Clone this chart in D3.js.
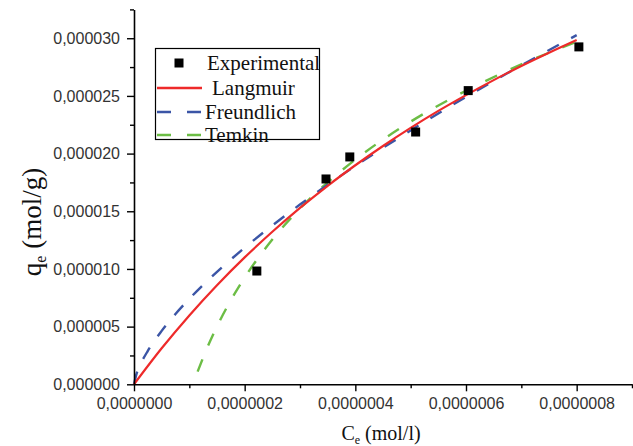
<!DOCTYPE html>
<html><head><meta charset="utf-8">
<script src="https://cdn.jsdelivr.net/npm/d3@7"></script>
<style>body{margin:0;background:#fff;} svg{display:block;}</style>
</head><body>
<svg id="chart" width="633" height="446"></svg>
<script>
// ---- Data ----
const expC = [0.222e-6, 0.347e-6, 0.390e-6, 0.509e-6, 0.604e-6, 0.804e-6];
const expQ = [9.82e-6, 17.80e-6, 19.71e-6, 21.87e-6, 25.46e-6, 29.25e-6];

const langC = [0, 0.05e-6, 0.1e-6, 0.15e-6, 0.2e-6, 0.25e-6, 0.3e-6, 0.35e-6, 0.4e-6, 0.45e-6, 0.5e-6, 0.55e-6, 0.6e-6, 0.65e-6, 0.7e-6, 0.75e-6, 0.8e-6];
const langQ = [0, 3.12e-6, 5.97e-6, 8.59e-6, 11.00e-6, 13.22e-6, 15.29e-6, 17.21e-6, 18.99e-6, 20.66e-6, 22.23e-6, 23.70e-6, 25.07e-6, 26.37e-6, 27.60e-6, 28.75e-6, 29.85e-6];

const freuC = [0, 0.005e-6, 0.01e-6, 0.025e-6, 0.05e-6, 0.075e-6, 0.1e-6, 0.15e-6, 0.2e-6, 0.25e-6, 0.3e-6, 0.4e-6, 0.5e-6, 0.6e-6, 0.7e-6, 0.8e-6];
const freuQ = [0, 0.97e-6, 1.56e-6, 2.90e-6, 4.63e-6, 6.10e-6, 7.41e-6, 9.75e-6, 11.84e-6, 13.77e-6, 15.58e-6, 18.93e-6, 22.01e-6, 24.91e-6, 27.65e-6, 30.27e-6];

const temkC = [0.115e-6, 0.13e-6, 0.15e-6, 0.175e-6, 0.2e-6, 0.25e-6, 0.3e-6, 0.35e-6, 0.4e-6, 0.5e-6, 0.6e-6, 0.7e-6, 0.8e-6];
const temkQ = [1.10e-6, 2.91e-6, 5.02e-6, 7.29e-6, 9.26e-6, 12.55e-6, 15.24e-6, 17.51e-6, 19.48e-6, 22.77e-6, 25.45e-6, 27.73e-6, 29.70e-6];

const xTickValues = [0, 0.2e-6, 0.4e-6, 0.6e-6, 0.8e-6];
const xTickLabels = ["0,0000000", "0,0000002", "0,0000004", "0,0000006", "0,0000008"];
const yTickValues = [0, 5e-6, 10e-6, 15e-6, 20e-6, 25e-6, 30e-6];
const yTickLabels = ["0,000000", "0,000005", "0,000010", "0,000015", "0,000020", "0,000025", "0,000030"];

const seriesNames = ["Experimental", "Langmuir", "Freundlich", "Temkin"];
const colors = {Langmuir: "#ee2a2a", Freundlich: "#3b55a6", Temkin: "#6cbd45"};

// ---- Drawing ----
const svg = d3.select("#chart");
const x = d3.scaleLinear().domain([0, 0.9e-6]).range([134, 632]);
const y = d3.scaleLinear().domain([0, 3.25e-5]).range([384.3, 9.4]);

const line = d3.line().x(d => x(d[0])).y(d => y(d[1])).curve(d3.curveMonotoneX);
function pairs(a, b) { return a.map((v, i) => [v, b[i]]); }

svg.append("path").datum(pairs(temkC, temkQ)).attr("d", line)
  .attr("fill", "none").attr("stroke", colors.Temkin).attr("stroke-width", 2.4).attr("stroke-dasharray", "13,15");
svg.append("path").datum(pairs(freuC, freuQ)).attr("d", line)
  .attr("fill", "none").attr("stroke", colors.Freundlich).attr("stroke-width", 2.4).attr("stroke-dasharray", "13,14");
svg.append("path").datum(pairs(langC, langQ)).attr("d", line)
  .attr("fill", "none").attr("stroke", colors.Langmuir).attr("stroke-width", 2.2);

const sq = 9;
svg.selectAll("rect.exp").data(pairs(expC, expQ)).enter().append("rect")
  .attr("class", "exp")
  .attr("x", d => x(d[0]) - sq / 2).attr("y", d => y(d[1]) - sq / 2)
  .attr("width", sq).attr("height", sq).attr("fill", "#000");

const fontSans = "'Liberation Sans', Arial, sans-serif";
const fontSerif = "'Liberation Serif', 'Times New Roman', serif";

const xAxis = d3.axisBottom(x).tickValues(xTickValues)
  .tickFormat((d, i) => xTickLabels[i]).tickSizeInner(7).tickSizeOuter(0).tickPadding(6);
const gx = svg.append("g").attr("transform", `translate(0,${y(0)})`).call(xAxis);
const xMinor = d3.axisBottom(x).tickValues([0.1e-6, 0.3e-6, 0.5e-6, 0.7e-6, 0.9e-6])
  .tickFormat("").tickSizeInner(4).tickSizeOuter(0);
const gxm = svg.append("g").attr("transform", `translate(0,${y(0)})`).call(xMinor);
gxm.select(".domain").remove();

const yAxis = d3.axisLeft(y).tickValues(yTickValues)
  .tickFormat((d, i) => yTickLabels[i]).tickSizeInner(7).tickSizeOuter(0).tickPadding(7);
const gy = svg.append("g").attr("transform", `translate(${x(0)},0)`).call(yAxis);
const yMinor = d3.axisLeft(y).tickValues([2.5e-6, 7.5e-6, 12.5e-6, 17.5e-6, 22.5e-6, 27.5e-6, 32.5e-6])
  .tickFormat("").tickSizeInner(4).tickSizeOuter(0);
const gym = svg.append("g").attr("transform", `translate(${x(0)},0)`).call(yMinor);
gym.select(".domain").remove();

[gx, gy, gxm, gym].forEach(g => {
  g.selectAll(".domain").attr("stroke", "#000").attr("stroke-width", 1.6);
  g.selectAll(".tick line").attr("stroke", "#000").attr("stroke-width", 1.4);
  g.selectAll(".tick text").attr("fill", "#333").style("font-family", fontSans).style("font-size", "16px");
});

const xt = svg.append("text").attr("x", 381).attr("y", 440).attr("text-anchor", "middle")
  .style("font-family", fontSerif).style("font-size", "20px").attr("fill", "#111");
xt.append("tspan").text("C");
xt.append("tspan").attr("dy", 4).style("font-size", "12px").text("e");
xt.append("tspan").attr("dy", -4).text(" (mol/l)");

const yt = svg.append("text").attr("transform", "translate(41,222) rotate(-90)").attr("text-anchor", "middle")
  .style("font-family", fontSerif).style("font-size", "27px").attr("fill", "#111");
yt.append("tspan").text("q");
yt.append("tspan").attr("dy", 5).style("font-size", "16px").text("e");
yt.append("tspan").attr("dy", -5).text(" (mol/g)");

const lg = svg.append("g");
lg.append("rect").attr("x", 155.5).attr("y", 48.5).attr("width", 164).attr("height", 91)
  .attr("fill", "#fff").attr("stroke", "#000").attr("stroke-width", 1.2);
const rowsY = [63, 88, 112, 135];
const textX = [207, 212, 205, 205];
seriesNames.forEach((name, i) => {
  const cy = rowsY[i];
  if (name === "Experimental") {
    lg.append("rect").attr("x", 179 - 4.5).attr("y", cy - 4.5).attr("width", 9).attr("height", 9).attr("fill", "#000");
  } else {
    const l = lg.append("line").attr("x1", 157).attr("x2", 202).attr("y1", cy).attr("y2", cy)
      .attr("stroke", colors[name]).attr("stroke-width", 2.6);
    if (name !== "Langmuir") l.attr("stroke-dasharray", "14,16");
  }
  lg.append("text").attr("x", textX[i]).attr("y", cy + 7)
    .style("font-family", fontSerif).style("font-size", "21px").attr("fill", "#111").text(name);
});
</script>
</body></html>
